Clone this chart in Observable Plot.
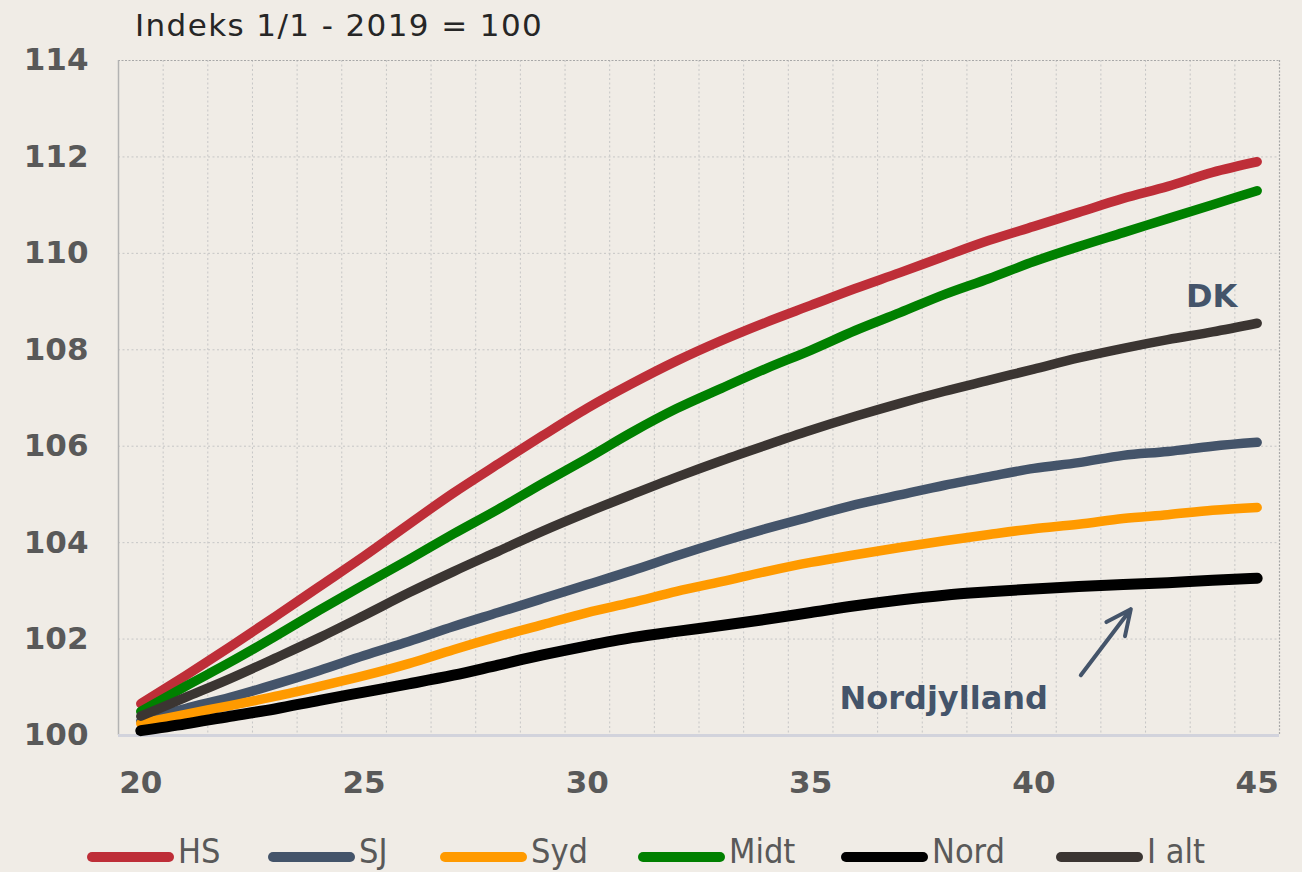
<!DOCTYPE html>
<html>
<head>
<meta charset="utf-8">
<script src="https://cdn.jsdelivr.net/npm/d3@7"></script>
<script src="https://cdn.jsdelivr.net/npm/@observablehq/plot@0.6"></script>
<style>
  html, body { margin: 0; padding: 0; background: #f0ece6; }
  #wrap { position: relative; width: 1302px; height: 872px; overflow: hidden; background: #f0ece6; }
  #title { position: absolute; left: 135px; top: 10px; font-family: "DejaVu Sans", sans-serif; font-size: 31px; line-height: 1; letter-spacing: 1.4px; color: #262626; white-space: nowrap; }
  #chart { position: absolute; left: 0; top: 48px; }
  #legend { position: absolute; left: 0; top: 0; width: 1302px; height: 872px; pointer-events: none; }
  .item { position: absolute; top: 834px; display: flex; align-items: flex-start; height: 34px; }
  .sw { width: 87px; height: 10px; border-radius: 5px; margin-top: 18px; }
  .lab { font-family: "DejaVu Sans Condensed", "DejaVu Sans", sans-serif; font-size: 34px; line-height: 1; color: #595959; margin-left: 4px; white-space: nowrap; }
</style>
</head>
<body>
<div id="wrap">
  <div id="title">Indeks 1/1 - 2019 = 100</div>
  <div id="chart"></div>
  <div id="legend"></div>
</div>
<script>
// ---- data ----
const years = [20,21,22,23,24,25,26,27,28,29,30,31,32,33,34,35,36,37,38,39,40,41,42,43,44,45];
const seriesNames = ["HS","SJ","Syd","Midt","Nord","I alt"];
const seriesColors = ["#be2e38","#44546a","#ff9a00","#008000","#000000","#3b3532"];
const HS   = [100.66,101.24,101.84,102.46,103.09,103.72,104.38,105.03,105.63,106.22,106.79,107.30,107.77,108.19,108.57,108.92,109.27,109.60,109.94,110.27,110.56,110.85,111.14,111.39,111.68,111.90];
const SJ   = [100.30,100.56,100.79,101.06,101.35,101.66,101.95,102.26,102.55,102.84,103.13,103.42,103.73,104.02,104.29,104.54,104.79,104.99,105.19,105.37,105.54,105.66,105.81,105.89,106.00,106.08];
const Syd  = [100.25,100.44,100.62,100.81,101.02,101.24,101.49,101.78,102.05,102.30,102.55,102.76,102.99,103.19,103.40,103.59,103.75,103.90,104.04,104.17,104.29,104.38,104.50,104.58,104.67,104.73];
const Midt = [100.50,101.02,101.52,102.05,102.60,103.13,103.65,104.18,104.69,105.23,105.75,106.29,106.78,107.20,107.61,107.99,108.40,108.77,109.15,109.48,109.83,110.14,110.43,110.72,111.01,111.30];
const Nord = [100.10,100.24,100.40,100.55,100.73,100.90,101.07,101.25,101.46,101.67,101.86,102.03,102.16,102.28,102.41,102.55,102.69,102.81,102.91,102.98,103.04,103.09,103.13,103.17,103.22,103.26];
const Ialt = [100.40,100.79,101.18,101.60,102.03,102.49,102.96,103.40,103.82,104.24,104.63,105.00,105.36,105.70,106.02,106.33,106.62,106.89,107.14,107.37,107.60,107.83,108.03,108.21,108.37,108.55];
const seriesValues = [HS, SJ, Syd, Midt, Nord, Ialt];
const xTicks = [20,25,30,35,40,45];
const yTicks = [100,102,104,106,108,110,112,114];
const annotLabels = [{x: 37.98, y: 100.77, text: "Nordjylland"}, {x: 43.98, y: 109.09, text: "DK"}];
const annotArrow = [{x1: 41.05, y1: 101.25, x2: 42.17, y2: 102.62}];

// ---- styles / layout ----
const lineWidths = {"HS": 9.5, "SJ": 9.5, "Syd": 9.5, "Midt": 9.5, "Nord": 11, "I alt": 9.5};
const legendLeft = [87, 268, 440, 638, 841, 1056];

const table = [];
seriesNames.forEach((s, i) => years.forEach((yr, j) => table.push({series: s, year: yr, value: seriesValues[i][j]})));

const gridX = d3.range(20.5, 45.5, 1);
const gridY = yTicks.filter(v => v > 100 && v < 114);
const font = "DejaVu Sans, sans-serif";
const colorScale = {domain: seriesNames, range: seriesColors};

const lineMarks = seriesNames.map(s => Plot.line(table.filter(d => d.series === s), {
  x: "year", y: "value", stroke: "series", strokeWidth: lineWidths[s], curve: "monotone-x",
  strokeLinecap: "round", strokeLinejoin: "round"
}));

const chart = Plot.plot({
  width: 1302, height: 780,
  marginTop: 12, marginBottom: 93, marginLeft: 118, marginRight: 23,
  style: {background: "transparent", color: "#595959", overflow: "visible"},
  x: {domain: [19.5, 45.5]},
  y: {domain: [100, 114]},
  color: colorScale,
  marks: [
    Plot.ruleX(gridX, {stroke: "#c6c6c6", strokeDasharray: "2,2.5", strokeWidth: 1}),
    Plot.ruleY(gridY, {stroke: "#c6c6c6", strokeDasharray: "2,2.5", strokeWidth: 1}),
    Plot.ruleY([114], {stroke: "#a8a8a8", strokeDasharray: "2,1.5", strokeWidth: 1.2}),
    Plot.ruleX([45.5], {stroke: "#a8a8a8", strokeDasharray: "2,1.5", strokeWidth: 1.2}),
    Plot.ruleX([19.5], {stroke: "#b3b3b3", strokeWidth: 1.5}),
    Plot.ruleY([100], {stroke: "#d2d3dc", strokeWidth: 3}),
    ...lineMarks,
    Plot.arrow(annotArrow, {x1: "x1", y1: "y1", x2: "x2", y2: "y2", stroke: "#44546a", strokeWidth: 4, headLength: 22, headAngle: 50}),
    Plot.text(annotLabels, {x: "x", y: "y", text: "text", fill: "#44546a", fontSize: 32, fontWeight: "bold", fontFamily: font}),
    Plot.axisX({ticks: xTicks, tickSize: 0, tickPadding: 35, fontSize: 31, fontWeight: "bold", fontFamily: font, fill: "#595959", tickFormat: d => String(d)}),
    Plot.axisY({ticks: yTicks, tickSize: 0, tickPadding: 30, fontSize: 31, fontWeight: "bold", fontFamily: font, fill: "#595959", tickFormat: d => String(d)})
  ]
});
document.getElementById("chart").appendChild(chart);

// legend
const leg = document.getElementById("legend");
seriesNames.forEach((s, i) => {
  const it = document.createElement("div");
  it.className = "item";
  it.style.left = legendLeft[i] + "px";
  const sw = document.createElement("div");
  sw.className = "sw";
  sw.style.background = seriesColors[i];
  const lab = document.createElement("div");
  lab.className = "lab";
  lab.textContent = s;
  it.appendChild(sw); it.appendChild(lab);
  leg.appendChild(it);
});
</script>
</body>
</html>
